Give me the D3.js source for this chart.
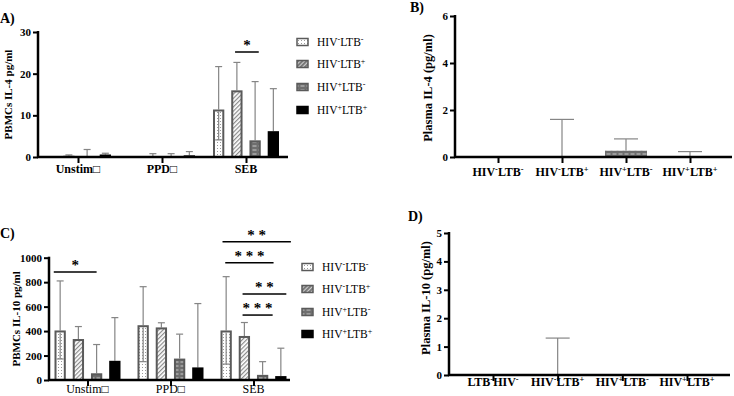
<!DOCTYPE html>
<html>
<head>
<meta charset="utf-8">
<script src="https://cdn.jsdelivr.net/npm/d3@7"></script>
<style>
  body { margin: 0; background: #fff; }
  svg { display: block; font-family: "Liberation Serif", "Times New Roman", serif; }
</style>
</head>
<body>
<svg id="chart" width="734" height="396"></svg>
<script>
// ---- data ----
var groups = ["Unstim\u25A1", "PPD\u25A1", "SEB"];
var seriesSigns = [["-", "-"], ["-", "+"], ["+", "-"], ["+", "+"]]; // HIV sign, LTB sign

// A) PBMCs IL-4, one row per stimulus, one value per series
var il4Mean  = [[0, 0.3, 0, 0.6], [0, 0, 0, 0.4], [11.4, 16.0, 4.0, 6.2]];
var il4Upper = [[0, 0.5, 1.8, 0.9], [0, 0.8, 0.8, 1.3], [21.7, 22.7, 18.1, 16.4]];
var il4Lower = [null, null, 4.1]; // lower whisker of first (white) bar
var il4Ticks = [0, 10, 20, 30];
var il4Sig = [{ g: 2, s1: 0.9, s2: 2.2, v: 25.2, label: "*" }];

// C) PBMCs IL-10
var il10Mean  = [[405, 335, 55, 157], [448, 430, 175, 103], [405, 360, 42, 32]];
var il10Upper = [[810, 437, 290, 510], [763, 468, 375, 625], [845, 470, 150, 260]];
var il10Lower = [172, 150, 130];
var il10Ticks = [0, 200, 400, 600, 800, 1000];
var il10Sig = [
  { g: 0, s1: -0.35, s2: 2.0, v: 883, label: "*" },
  { g: 2, s1: -0.2, s2: 3.55, v: 1131, label: "* *" },
  { g: 2, s1: -0.05, s2: 2.6, v: 959, label: "* * *" },
  { g: 2, s1: 0.9, s2: 3.3, v: 703, label: "* *" },
  { g: 2, s1: 0.9, s2: 2.55, v: 531, label: "* * *" }
];

// B) Plasma IL-4, D) Plasma IL-10
var plasmaCatsB = [[["HIV", "-"], ["LTB", "-"]], [["HIV", "-"], ["LTB", "+"]], [["HIV", "+"], ["LTB", "-"]], [["HIV", "+"], ["LTB", "+"]]];
var plasmaCatsD = [[["LTB", "-"], ["HIV", "-"]], [["HIV", "-"], ["LTB", "+"]], [["HIV", "+"], ["LTB", "-"]], [["HIV", "+"], ["LTB", "+"]]];
var plasmaIL4Mean  = [0, 0, 0.27, 0];
var plasmaIL4Upper = [0, 1.6, 0.77, 0.23];
var plasmaIL4Ticks = [0, 2, 4, 6];
var plasmaIL10Mean  = [0, 0, 0, 0];
var plasmaIL10Upper = [0, 1.3, 0, 0];
var plasmaIL10Ticks = [0, 1, 2, 3, 4, 5];

var svg = d3.select("#chart");

// ---- patterns for the four bar fills ----
var defs = svg.append("defs");
var pDots = defs.append("pattern").attr("id", "dots").attr("patternUnits", "userSpaceOnUse")
  .attr("width", 3).attr("height", 3);
pDots.append("rect").attr("width", 3).attr("height", 3).attr("fill", "#fff");
pDots.append("rect").attr("x", 1).attr("y", 1).attr("width", 1).attr("height", 1).attr("fill", "#9a9a9a");

var pDiag = defs.append("pattern").attr("id", "diag").attr("patternUnits", "userSpaceOnUse")
  .attr("width", 3).attr("height", 3).attr("patternTransform", "rotate(45)");
pDiag.append("rect").attr("width", 3).attr("height", 3).attr("fill", "#fff");
pDiag.append("rect").attr("width", 1.2).attr("height", 3).attr("fill", "#8a8a8a");

var pGrid = defs.append("pattern").attr("id", "grid").attr("patternUnits", "userSpaceOnUse")
  .attr("width", 6).attr("height", 4);
pGrid.append("rect").attr("width", 6).attr("height", 4).attr("fill", "#6e6e6e");
pGrid.append("rect").attr("x", 0.5).attr("y", 1.5).attr("width", 4).attr("height", 1).attr("fill", "#c8c8c8");

// legend swatch for the hatched series reads darker at small size
var pDiagDark = defs.append("pattern").attr("id", "diagDark").attr("patternUnits", "userSpaceOnUse")
  .attr("width", 3).attr("height", 3).attr("patternTransform", "rotate(45)");
pDiagDark.append("rect").attr("width", 3).attr("height", 3).attr("fill", "#7a7a7a");
pDiagDark.append("rect").attr("width", 1).attr("height", 3).attr("fill", "#d0d0d0");

var fills = ["url(#dots)", "url(#diag)", "url(#grid)", "#000"];
var legendFills = ["url(#dots)", "url(#diagDark)", "url(#grid)", "#000"];
var strokes = ["#5a5a5a", "#5a5a5a", "#5a5a5a", "#000"];
var errColor = "#858585";

// write "HIV-LTB+" style label with superscript signs
function supText(sel, pairs) {
  var back = 0;
  pairs.forEach(function(p) {
    sel.append("tspan").attr("dy", back).text(p[0]);
    sel.append("tspan").attr("dy", -4).attr("font-size", "0.7em").text(p[1]);
    back = 4;
  });
}

function axes(g, x, y, ticks, x0, x1, yBottom, yTop) {
  // y axis
  var ya = g.append("g").attr("transform", "translate(" + x0 + ",0)")
    .call(d3.axisLeft(y).tickValues(ticks).tickFormat(d3.format("d"))
      .tickSize(5).tickSizeOuter(0).tickPadding(2));
  ya.select(".domain").remove();
  ya.selectAll("line").attr("stroke", "#000").attr("stroke-width", 2);
  ya.selectAll("text").attr("font-family", "Liberation Serif").attr("font-weight", "bold")
    .attr("font-size", 11).attr("fill", "#000");
  g.append("line").attr("x1", x0).attr("x2", x0).attr("y1", yTop - 1).attr("y2", yBottom + 1)
    .attr("stroke", "#000").attr("stroke-width", 2.5);
  // x axis
  var xa = g.append("g").attr("transform", "translate(0," + yBottom + ")")
    .call(d3.axisBottom(x).tickSize(6).tickSizeOuter(0).tickFormat(""));
  xa.select(".domain").remove();
  xa.selectAll("line").attr("stroke", "#000").attr("stroke-width", 2);
  g.append("line").attr("x1", x0 - 1).attr("x2", x1).attr("y1", yBottom).attr("y2", yBottom)
    .attr("stroke", "#000").attr("stroke-width", 2.5);
}

function errorBar(g, cx, yTop, yBot, cap) {
  g.append("line").attr("x1", cx).attr("x2", cx).attr("y1", yTop).attr("y2", yBot)
    .attr("stroke", errColor).attr("stroke-width", 1.2);
  g.append("line").attr("x1", cx - cap / 2).attr("x2", cx + cap / 2).attr("y1", yTop).attr("y2", yTop)
    .attr("stroke", errColor).attr("stroke-width", 1.2);
}

// ---- grouped panels (A and C) ----
function groupedPanel(opt) {
  var g = svg.append("g");
  var x = d3.scalePoint().domain(groups).range(opt.xRange);
  var y = d3.scaleLinear().domain(opt.yDomain).range(opt.yRange);
  var xs = d3.scaleBand().domain([0, 1, 2, 3]).range([-33, 33]).paddingInner(0.38);
  var bw = xs.bandwidth();
  var sStep = xs.step();
  function sx(gi, s) { return x(groups[gi]) + xs(0) + bw / 2 + s * sStep; }

  // error bars behind the bars
  opt.mean.forEach(function(row, gi) {
    row.forEach(function(v, si) {
      var up = opt.upper[gi][si];
      if (up > v) errorBar(g, sx(gi, si), y(up), y(v), 7);
    });
  });

  // bars
  opt.mean.forEach(function(row, gi) {
    g.selectAll(null).data(row).enter().append("rect")
      .attr("x", function(d, si) { return x(groups[gi]) + xs(si) + 1; })
      .attr("y", function(d) { return y(d) + 1; })
      .attr("width", bw - 2)
      .attr("height", function(d) { return Math.max(0, y(0) - y(d) - 1); })
      .attr("fill", function(d, si) { return fills[si]; })
      .attr("stroke", function(d, si) { return strokes[si]; })
      .attr("stroke-width", function(d) { return d > 0 ? 2 : 0; });
  });
  // lower whisker, visible through the white bar
  opt.mean.forEach(function(row, gi) {
    if (opt.lower[gi] != null) {
      var cx = sx(gi, 0);
      var yl = y(opt.lower[gi]);
      g.append("line").attr("x1", cx).attr("x2", cx).attr("y1", y(row[0]) + 2).attr("y2", yl)
        .attr("stroke", errColor).attr("stroke-width", 1.2);
      g.append("line").attr("x1", cx - 3.5).attr("x2", cx + 3.5).attr("y1", yl).attr("y2", yl)
        .attr("stroke", errColor).attr("stroke-width", 1.2);
    }
  });

  axes(g, x, y, opt.ticks, opt.x0, opt.x1, opt.yRange[0], opt.yRange[1]);

  // category labels
  g.selectAll(null).data(groups).enter().append("text")
    .attr("x", function(d) { return x(d); })
    .attr("y", opt.labelY)
    .attr("text-anchor", "middle")
    .attr("font-size", 12)
    .attr("font-weight", opt.boldX ? "bold" : "normal")
    .text(function(d) { return d; });

  // significance lines
  opt.sig.forEach(function(s) {
    var yy = y(s.v);
    g.append("line").attr("x1", sx(s.g, s.s1)).attr("x2", sx(s.g, s.s2))
      .attr("y1", yy).attr("y2", yy).attr("stroke", "#000").attr("stroke-width", 1.5);
    g.append("text").attr("x", (sx(s.g, s.s1) + sx(s.g, s.s2)) / 2).attr("y", yy - 2)
      .attr("text-anchor", "middle").attr("font-size", 15).attr("font-weight", "bold")
      .text(s.label);
  });

  // y title
  g.append("text")
    .attr("transform", "translate(" + opt.yTitleX + "," + ((opt.yRange[0] + opt.yRange[1]) / 2) + ") rotate(-90)")
    .attr("text-anchor", "middle").attr("font-size", 11).attr("font-weight", "bold")
    .text(opt.yTitle);

  // panel letter
  g.append("text").attr("x", opt.letterX).attr("y", opt.letterY)
    .attr("font-size", 14).attr("font-weight", "bold").text(opt.letter);

  // legend
  var lg = g.append("g");
  seriesSigns.forEach(function(sg, i) {
    var cy = opt.legendY[i];
    lg.append("rect").attr("x", opt.legendX).attr("y", cy - 3.5).attr("width", 11).attr("height", 7)
      .attr("fill", legendFills[i]).attr("stroke", strokes[i]).attr("stroke-width", 1.5);
    var t = lg.append("text").attr("x", opt.legendX + 20).attr("y", cy + 4).attr("font-size", 11.5);
    supText(t, [["HIV", sg[0]], ["LTB", sg[1]]]);
  });
}

// ---- single-series panels (B and D) ----
function plasmaPanel(opt) {
  var g = svg.append("g");
  var keys = d3.range(opt.cats.length);
  var x = d3.scalePoint().domain(keys).range(opt.xRange);
  var y = d3.scaleLinear().domain(opt.yDomain).range(opt.yRange);
  var bw = 42;

  opt.mean.forEach(function(v, i) {
    if (opt.upper[i] > v) errorBar(g, x(i), y(opt.upper[i]), y(v), 24);
  });
  g.selectAll(null).data(opt.mean).enter().append("rect")
    .attr("x", function(d, i) { return x(i) - bw / 2; })
    .attr("y", function(d) { return y(d); })
    .attr("width", bw)
    .attr("height", function(d) { return y(0) - y(d); })
    .attr("fill", "url(#grid)");

  axes(g, x, y, opt.ticks, opt.x0, opt.x1, opt.yRange[0], opt.yRange[1]);

  keys.forEach(function(i) {
    var t = g.append("text").attr("x", x(i)).attr("y", opt.labelY).attr("text-anchor", "middle")
      .attr("font-size", 12).attr("font-weight", "bold");
    supText(t, opt.cats[i]);
  });

  g.append("text")
    .attr("transform", "translate(" + opt.yTitleX + "," + opt.yTitleY + ") rotate(-90)")
    .attr("text-anchor", "middle").attr("font-size", 12.5).attr("font-weight", "bold")
    .text(opt.yTitle);

  g.append("text").attr("x", opt.letterX).attr("y", opt.letterY)
    .attr("font-size", 14).attr("font-weight", "bold").text(opt.letter);
}

groupedPanel({
  mean: il4Mean, upper: il4Upper, lower: il4Lower, ticks: il4Ticks, sig: il4Sig,
  xRange: [78, 246], yDomain: [0, 30], yRange: [157, 32], x0: 38, x1: 288,
  labelY: 173, boldX: true, yTitle: "PBMCs IL-4 pg/ml", yTitleX: 12,
  letter: "A)", letterX: 0, letterY: 23,
  legendX: 297, legendY: [42, 64, 87, 110]
});

groupedPanel({
  mean: il10Mean, upper: il10Upper, lower: il10Lower, ticks: il10Ticks, sig: il10Sig,
  xRange: [87.5, 253.5], yDomain: [0, 1000], yRange: [380, 257.7], x0: 49, x1: 290,
  labelY: 393, boldX: false, yTitle: "PBMCs IL-10 pg/ml", yTitleX: 20,
  letter: "C)", letterX: 0, letterY: 238,
  legendX: 302, legendY: [267, 289, 312, 334]
});

plasmaPanel({
  cats: plasmaCatsB, mean: plasmaIL4Mean, upper: plasmaIL4Upper, ticks: plasmaIL4Ticks,
  xRange: [498, 690], yDomain: [0, 6], yRange: [157, 16], x0: 455, x1: 732,
  labelY: 176, yTitle: "Plasma IL-4 (pg/ml)", yTitleX: 432, yTitleY: 88,
  letter: "B)", letterX: 410, letterY: 12
});

plasmaPanel({
  cats: plasmaCatsD, mean: plasmaIL10Mean, upper: plasmaIL10Upper, ticks: plasmaIL10Ticks,
  xRange: [493, 687], yDomain: [0, 5], yRange: [375, 233], x0: 449, x1: 730,
  labelY: 386, yTitle: "Plasma IL-10 (pg/ml)", yTitleX: 430, yTitleY: 298,
  letter: "D)", letterX: 408, letterY: 221
});
</script>
</body>
</html>
